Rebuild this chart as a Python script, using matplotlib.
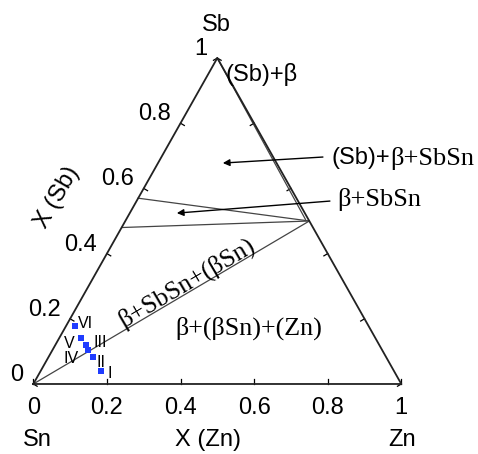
import numpy as np
import matplotlib
matplotlib.use('Agg')
import matplotlib.pyplot as plt

# ternary Sn-Sb-Zn section, compositions as (x_Zn, x_Sb)
H = np.sqrt(3) / 2

tick_vals = [0, 0.2, 0.4, 0.6, 0.8, 1]
tick_labels = ['0', '0.2', '0.4', '0.6', '0.8', '1']

beta = (0.5, 0.5)
# tie lines: (zn0, sb0, zn1, sb1)
tie_lines = [
    (0.0, 0.0, 0.5, 0.5),     # Sn - beta
    (0.0, 0.48, 0.5, 0.5),    # SbSn low side - beta
    (0.0, 0.57, 0.5, 0.5),    # SbSn high side - beta
    (0.0, 1.0, 0.487, 0.505),  # (Sb) - beta
]

alloy_zn = [0.024, 0.059, 0.083, 0.097, 0.121, 0.164]
alloy_sb = [0.178, 0.141, 0.120, 0.104, 0.083, 0.040]
alloy_names = ['VI', 'V', 'III', 'IV', 'II', 'I']
name_pos = [(0.143, 0.160), (0.097, 0.107), (0.181, 0.109),
            (0.102, 0.068), (0.184, 0.058), (0.209, 0.027)]


def tern(zn, sb):
    zn = np.asarray(zn, float)
    sb = np.asarray(sb, float)
    return zn + sb / 2, sb * H


plt.rcParams['font.family'] = ['Liberation Sans', 'DejaVu Sans']
sans = ['Liberation Sans', 'DejaVu Sans']
serif = ['Liberation Serif', 'DejaVu Serif']

fig = plt.figure(figsize=(4.78, 4.54), dpi=100)
ax = fig.add_axes([0, 0, 1, 1])
ax.set_xlim(-0.0905, 1.2084)
ax.set_ylim(-0.186, 1.0202)
ax.axis('off')

# triangle
tx, ty = tern([0, 1, 0, 0], [0, 0, 1, 0])
ax.plot(tx, ty, color='#222222', lw=1.3, zorder=3)

# ticks pointing inward
tl = 0.012
for v in tick_vals:
    # bottom edge
    x, y = tern(v, 0)
    ax.plot([x, x], [y, y + tl], color='k', lw=0.9)
    # left edge (Sn-Sb)
    x, y = tern(0, v)
    ax.plot([x, x + tl * H], [y, y - tl / 2], color='k', lw=0.9)
    # right edge (Zn-Sb)
    x, y = tern(1 - v, v)
    ax.plot([x, x - tl * H], [y, y - tl / 2], color='k', lw=0.9)

# tie lines
for zn0, sb0, zn1, sb1 in tie_lines:
    lx, ly = tern([zn0, zn1], [sb0, sb1])
    ax.plot(lx, ly, color='#444444', lw=0.9, zorder=2)

# alloys
ax_, ay_ = tern(alloy_zn, alloy_sb)
ax.plot(ax_, ay_, 's', color='#1f3cff', markersize=4.6, markeredgewidth=0, zorder=4)
for name, (nx, ny) in zip(alloy_names, name_pos):
    ax.text(nx, ny, name, fontsize=11.5, ha='center', va='center', family=sans, zorder=5)

# tick labels
for v, lab in zip(tick_vals, tick_labels):
    x, y = tern(v, 0)
    ax.text(x, -0.064, lab, fontsize=17, ha='center', va='center', family=sans)
    x, y = tern(0, v)
    ax.annotate(lab, (x, y), xytext=(-7, 6.5), textcoords='offset points',
                fontsize=17, ha='right', va='center', family=sans)

ax.text(0.010, -0.149, 'Sn', fontsize=17, ha='center', va='center', family=sans)
ax.text(0.475, -0.149, 'X (Zn)', fontsize=17, ha='center', va='center', family=sans)
ax.text(1.002, -0.149, 'Zn', fontsize=17, ha='center', va='center', family=sans)
ax.text(0.497, 0.954, 'Sb', fontsize=17, ha='center', va='center', family=sans)
ax.text(0.0644, 0.497, 'X (Sb)', fontsize=17, ha='center', va='center',
        rotation=60, rotation_mode='anchor', family=sans)

# phase field labels
ax.text(0.521, 0.821, '(Sb)+β', fontsize=17, ha='left', va='center', family=sans)
t1 = ax.text(0.811, 0.600, '(Sb)+', fontsize=17, ha='left', va='center', family=sans)
ax.annotate('β+SbSn', xy=(1, 0.5), xycoords=t1, fontsize=19,
            ha='left', va='center', family=serif)
ax.text(0.825, 0.489, 'β+SbSn', fontsize=19, ha='left', va='center', family=serif)
ax.text(0.418, 0.270, 'β+SbSn+(βSn)', fontsize=18.5, ha='center', va='center',
        rotation=30.5, rotation_mode='anchor', family=serif)
ax.text(0.586, 0.149, 'β+(βSn)+(Zn)', fontsize=18.7, ha='center', va='center', family=serif)

arrow = dict(arrowstyle='-|>', color='k', lw=1.0, mutation_scale=10,
             shrinkA=0, shrinkB=0)
ax.annotate('', xy=(0.515, 0.587), xytext=(0.787, 0.603), arrowprops=arrow)
ax.annotate('', xy=(0.390, 0.454), xytext=(0.806, 0.486), arrowprops=arrow)

fig.savefig('out.png', dpi=100)
